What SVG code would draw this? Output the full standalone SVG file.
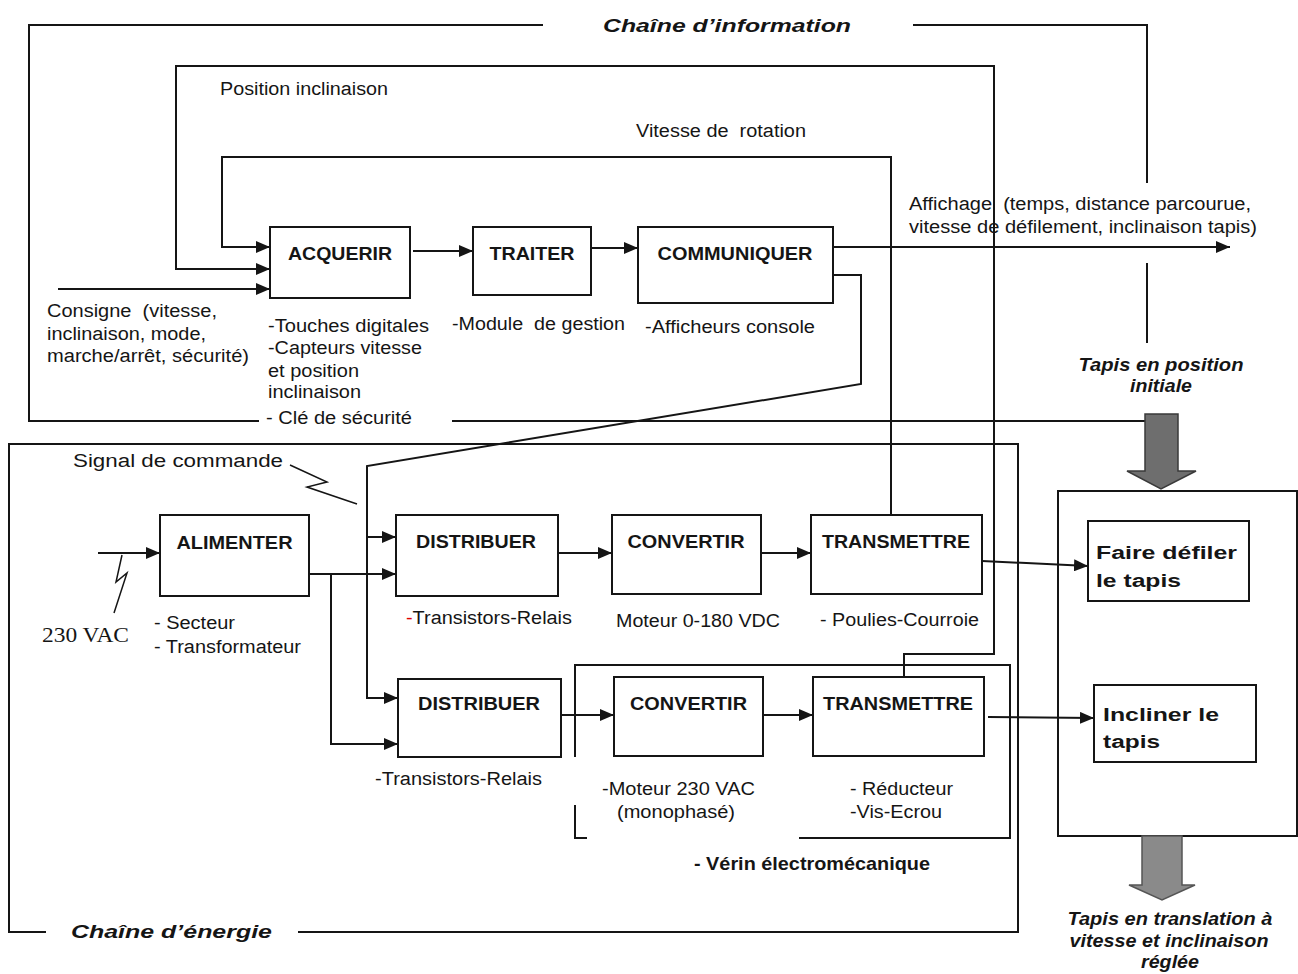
<svg xmlns="http://www.w3.org/2000/svg" width="1298" height="974" viewBox="0 0 1298 974">
<style>
.t{font-family:"Liberation Sans",Arial,sans-serif;font-size:18px;fill:#151515}
.b{font-weight:bold;font-size:19px}
.bi{font-weight:bold;font-style:italic}
.ser{font-family:"Liberation Serif","Times New Roman",serif;font-size:22px;fill:#151515}
.box{fill:#fff;stroke:#151515;stroke-width:2}
.frame{fill:none;stroke:#151515;stroke-width:2}
.ln{fill:none;stroke:#151515;stroke-width:2}
.thin{fill:none;stroke:#151515;stroke-width:1.5}
.arr{marker-end:url(#ah)}
</style>
<defs>
<marker id="ah" markerWidth="14" markerHeight="12" refX="14" refY="6" orient="auto" markerUnits="userSpaceOnUse">
<path d="M0,0 L14,6 L0,12 z" fill="#151515"/>
</marker>
</defs>
<rect width="1298" height="974" fill="#fff"/>

<g id="frames">
<path class="ln" d="M543,25 H29 V421 H259 M452,421 H1145 M913,25 H1147 V183 M1147,263 V343"/>
<path class="ln" d="M46,932 H9 V444 H1018 V932 H298"/>
<path class="ln" d="M575,757 V665 H1010 V838 H799 M575,805 V838 H587"/>
<text class="t bi" x="603" y="32" font-size="23" textLength="248" lengthAdjust="spacingAndGlyphs">Chaîne d’information</text>
<text class="t bi" x="71" y="938" font-size="23" textLength="201" lengthAdjust="spacingAndGlyphs">Chaîne d’énergie</text>
<text class="t b" x="694" y="870" textLength="236" lengthAdjust="spacingAndGlyphs">- Vérin électromécanique</text>
</g>

<g id="partie-operative">
<rect class="frame" x="1058" y="491" width="239" height="345"/>
<polygon points="1145,414 1178,414 1178,471 1196,471 1161,489 1127,471 1145,471" fill="#6e6e6e" stroke="#3a3a3a" stroke-width="1.5"/>
<text class="t bi" x="1161" y="371" font-size="17" text-anchor="middle" textLength="165" lengthAdjust="spacingAndGlyphs">Tapis en position</text>
<text class="t bi" x="1161" y="392" font-size="17" text-anchor="middle" textLength="62" lengthAdjust="spacingAndGlyphs">initiale</text>
<polygon points="1142,836 1182,836 1182,885 1195,885 1162,900 1129,885 1142,885" fill="#8a8a8a" stroke="#555" stroke-width="1.5"/>
<text class="t bi" x="1170" y="925" font-size="17" text-anchor="middle" textLength="205" lengthAdjust="spacingAndGlyphs">Tapis en translation à</text>
<text class="t bi" x="1169" y="947" font-size="17" text-anchor="middle" textLength="199" lengthAdjust="spacingAndGlyphs">vitesse et inclinaison</text>
<text class="t bi" x="1170" y="968" font-size="17" text-anchor="middle" textLength="58" lengthAdjust="spacingAndGlyphs">réglée</text>
</g>

<g id="connectors">
<polyline class="ln arr" points="891,515 891,157 222,157 222,247 270,247"/>
<polyline class="ln arr" points="904,677 904,654 994,654 994,66 176,66 176,269 270,269"/>
<line class="ln arr" x1="58" y1="289" x2="270" y2="289"/>
<line class="ln arr" x1="413" y1="251" x2="473" y2="251"/>
<line class="ln arr" x1="591" y1="248" x2="638" y2="248"/>
<line class="ln arr" x1="833" y1="247" x2="1230" y2="247"/>
<polyline class="ln arr" points="833,275 861,275 861,384 367,466 367,698 398,698"/>
<line class="ln arr" x1="367" y1="537" x2="396" y2="537"/>
<line class="ln arr" x1="309" y1="574" x2="396" y2="574"/>
<polyline class="ln arr" points="331,574 331,744 398,744"/>
<line class="ln arr" x1="98" y1="553" x2="160" y2="553"/>
<line class="ln arr" x1="558" y1="553" x2="612" y2="553"/>
<line class="ln arr" x1="761" y1="553" x2="811" y2="553"/>
<line class="ln arr" x1="982" y1="561" x2="1088" y2="566"/>
<line class="ln arr" x1="561" y1="715" x2="614" y2="715"/>
<line class="ln arr" x1="763" y1="715" x2="813" y2="715"/>
<line class="ln arr" x1="988" y1="717" x2="1094" y2="718"/>
<polyline class="thin" points="122,555 116,582 127,573 114,613"/>
<polyline class="thin" points="290,465 327,482 307,487 357,504"/>
<text class="t" x="220" y="95" textLength="168" lengthAdjust="spacingAndGlyphs">Position inclinaison</text>
<text class="t" x="636" y="137" textLength="170" lengthAdjust="spacingAndGlyphs" xml:space="preserve">Vitesse de  rotation</text>
<text class="t" x="909" y="210" textLength="342" lengthAdjust="spacingAndGlyphs" xml:space="preserve">Affichage  (temps, distance parcourue,</text>
<text class="t" x="909" y="233" textLength="348" lengthAdjust="spacingAndGlyphs">vitesse de défilement, inclinaison tapis)</text>
<text class="t" x="47" y="317" textLength="170" lengthAdjust="spacingAndGlyphs" xml:space="preserve">Consigne  (vitesse,</text>
<text class="t" x="47" y="340" textLength="159" lengthAdjust="spacingAndGlyphs">inclinaison, mode,</text>
<text class="t" x="47" y="362" textLength="202" lengthAdjust="spacingAndGlyphs">marche/arrêt, sécurité)</text>
<text class="t" x="73" y="467" textLength="210" lengthAdjust="spacingAndGlyphs">Signal de commande</text>
<text class="ser" x="42" y="642" textLength="87" lengthAdjust="spacingAndGlyphs">230 VAC</text>
</g>

<g id="acquerir">
<rect class="box" x="270" y="227" width="140" height="71"/>
<text class="t b" x="340" y="260" text-anchor="middle" textLength="104" lengthAdjust="spacingAndGlyphs">ACQUERIR</text>
<text class="t" x="268" y="332" textLength="161" lengthAdjust="spacingAndGlyphs">-Touches digitales</text>
<text class="t" x="268" y="354" textLength="154" lengthAdjust="spacingAndGlyphs">-Capteurs vitesse</text>
<text class="t" x="268" y="377" textLength="91" lengthAdjust="spacingAndGlyphs">et position</text>
<text class="t" x="268" y="398" textLength="93" lengthAdjust="spacingAndGlyphs">inclinaison</text>
<text class="t" x="266" y="424" textLength="146" lengthAdjust="spacingAndGlyphs">- Clé de sécurité</text>
</g>

<g id="traiter">
<rect class="box" x="473" y="227" width="118" height="68"/>
<text class="t b" x="532" y="260" text-anchor="middle" textLength="85" lengthAdjust="spacingAndGlyphs">TRAITER</text>
<text class="t" x="452" y="330" textLength="173" lengthAdjust="spacingAndGlyphs" xml:space="preserve">-Module  de gestion</text>
</g>

<g id="communiquer">
<rect class="box" x="638" y="227" width="195" height="76"/>
<text class="t b" x="735" y="260" text-anchor="middle" textLength="155" lengthAdjust="spacingAndGlyphs">COMMUNIQUER</text>
<text class="t" x="645" y="333" textLength="170" lengthAdjust="spacingAndGlyphs">-Afficheurs console</text>
</g>

<g id="alimenter">
<rect class="box" x="160" y="515" width="149" height="81"/>
<text class="t b" x="234.5" y="549" text-anchor="middle" textLength="116" lengthAdjust="spacingAndGlyphs">ALIMENTER</text>
<text class="t" x="154" y="629" textLength="81" lengthAdjust="spacingAndGlyphs">- Secteur</text>
<text class="t" x="154" y="653" textLength="147" lengthAdjust="spacingAndGlyphs">- Transformateur</text>
</g>

<g id="distribuer1">
<rect class="box" x="396" y="515" width="162" height="81"/>
<text class="t b" x="476" y="548" text-anchor="middle" textLength="120" lengthAdjust="spacingAndGlyphs">DISTRIBUER</text>
<text class="t" x="406" y="624" textLength="166" lengthAdjust="spacingAndGlyphs"><tspan fill="#e00000">-</tspan>Transistors-Relais</text>
</g>

<g id="convertir1">
<rect class="box" x="612" y="515" width="149" height="79"/>
<text class="t b" x="686" y="548" text-anchor="middle" textLength="117" lengthAdjust="spacingAndGlyphs">CONVERTIR</text>
<text class="t" x="616" y="627" textLength="164" lengthAdjust="spacingAndGlyphs">Moteur 0-180 VDC</text>
</g>

<g id="transmettre1">
<rect class="box" x="811" y="515" width="171" height="79"/>
<text class="t b" x="896" y="548" text-anchor="middle" textLength="148" lengthAdjust="spacingAndGlyphs">TRANSMETTRE</text>
<text class="t" x="820" y="626" textLength="159" lengthAdjust="spacingAndGlyphs">- Poulies-Courroie</text>
</g>

<g id="distribuer2">
<rect class="box" x="398" y="679" width="163" height="78"/>
<text class="t b" x="479" y="710" text-anchor="middle" textLength="122" lengthAdjust="spacingAndGlyphs">DISTRIBUER</text>
<text class="t" x="375" y="785" textLength="167" lengthAdjust="spacingAndGlyphs">-Transistors-Relais</text>
</g>

<g id="convertir2">
<rect class="box" x="614" y="677" width="149" height="79"/>
<text class="t b" x="688.5" y="710" text-anchor="middle" textLength="117" lengthAdjust="spacingAndGlyphs">CONVERTIR</text>
<text class="t" x="602" y="795" textLength="153" lengthAdjust="spacingAndGlyphs">-Moteur 230 VAC</text>
<text class="t" x="617" y="818" textLength="118" lengthAdjust="spacingAndGlyphs">(monophasé)</text>
</g>

<g id="transmettre2">
<rect class="box" x="813" y="677" width="171" height="79"/>
<text class="t b" x="898" y="710" text-anchor="middle" textLength="150" lengthAdjust="spacingAndGlyphs">TRANSMETTRE</text>
<text class="t" x="850" y="795" textLength="103" lengthAdjust="spacingAndGlyphs">- Réducteur</text>
<text class="t" x="850" y="818" textLength="92" lengthAdjust="spacingAndGlyphs">-Vis-Ecrou</text>
</g>

<g id="faire-defiler">
<rect class="frame" x="1088" y="521" width="161" height="80"/>
<text class="t" x="1096" y="559" font-size="22" font-weight="bold" textLength="141" lengthAdjust="spacingAndGlyphs">Faire défiler</text>
<text class="t" x="1096" y="587" font-size="22" font-weight="bold" textLength="85" lengthAdjust="spacingAndGlyphs">le tapis</text>
</g>

<g id="incliner">
<rect class="frame" x="1094" y="685" width="162" height="77"/>
<text class="t" x="1103" y="721" font-size="22" font-weight="bold" textLength="116" lengthAdjust="spacingAndGlyphs">Incliner le</text>
<text class="t" x="1103" y="748" font-size="22" font-weight="bold" textLength="57" lengthAdjust="spacingAndGlyphs">tapis</text>
</g>
</svg>
